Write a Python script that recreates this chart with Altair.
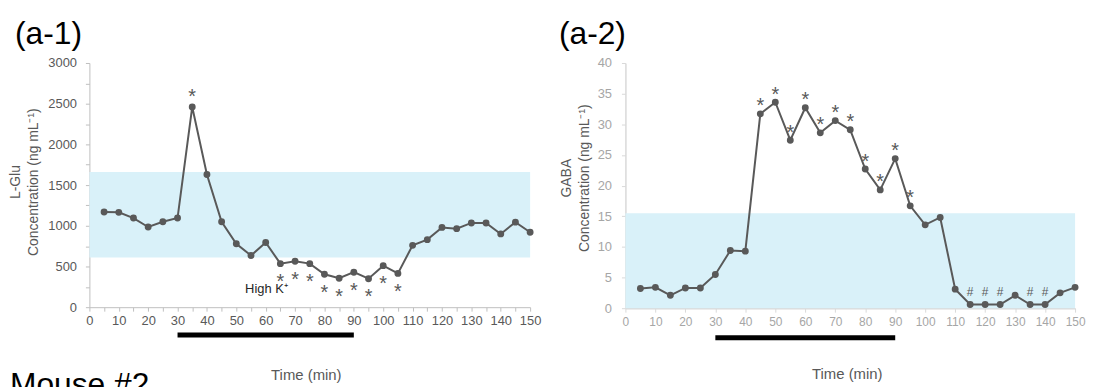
import altair as alt
import pandas as pd

# ---------------- data ----------------
time_min = list(range(5, 151, 5))
glu = [1170, 1165, 1095, 985, 1050, 1095, 2460, 1630, 1050, 780,
       635, 795, 535, 565, 535, 405, 355, 430, 350, 510,
       415, 760, 830, 980, 965, 1035, 1035, 900, 1045, 920]
gaba = [3.2, 3.4, 2.1, 3.3, 3.3, 5.5, 9.4, 9.3, 31.7, 33.6,
        27.4, 32.7, 28.6, 30.6, 29.1, 22.7, 19.3, 24.4, 16.7, 13.6,
        14.8, 3.1, 0.6, 0.6, 0.6, 2.1, 0.6, 0.6, 2.5, 3.4]

glu_star_above = [35]
glu_star_below = [65, 70, 75, 80, 85, 90, 95, 100, 105]
gaba_star_above = [45, 50, 55, 60, 65, 70, 75, 80, 85, 90, 95]
gaba_hash_above = [115, 120, 125, 135, 140]

glu_band = [610, 1660]
gaba_band = [0, 15.5]
stim = [30, 90]
stim_label = "High K\u207a"

FONT = "Liberation Sans, Arial, sans-serif"
GRAY = "#595959"
LIGHT = "#a6a6a6"
BLUE = "#d9f1f9"

df_glu = pd.DataFrame({"time": time_min, "value": glu})
df_gaba = pd.DataFrame({"time": time_min, "value": gaba})
df_stim = pd.DataFrame({"time": [stim[0]], "time2": [stim[1]]})


def sub(df, times):
    return df[df["time"].isin(times)]


def band_layer(band, xenc, yenc):
    d = pd.DataFrame({"time": [0], "time2": [150], "value": [band[0]], "value2": [band[1]]})
    return alt.Chart(d).mark_rect(color=BLUE).encode(
        x=xenc, x2="time2:Q", y=yenc, y2="value2:Q")


def series_layers(df, xenc, yenc):
    base = alt.Chart(df).encode(x=xenc, y=yenc)
    line = base.mark_line(color=GRAY, strokeWidth=2)
    pts = base.mark_point(filled=True, color=GRAY, opacity=1, size=48)
    return line + pts


def marks(df, times, sym, dy, size, xenc, yenc):
    return alt.Chart(sub(df, times)).mark_text(
        text=sym, dy=dy, fontSize=size, font=FONT, color=GRAY,
        baseline="alphabetic").encode(x=xenc, y=yenc)


def stim_layer(xenc, ypix):
    return alt.Chart(df_stim).mark_rule(color="black", strokeWidth=5, strokeCap="butt").encode(
        x=xenc, x2="time2:Q", y=alt.value(ypix))


def label_text(txt, x, y, size, color="black", align="left"):
    return alt.Chart(pd.DataFrame({"t": [txt]})).mark_text(
        font=FONT, fontSize=size, color=color, align=align,
        baseline="alphabetic").encode(text="t:N", x=alt.value(x), y=alt.value(y))


# ---------------- panel 1: L-Glu ----------------
x1 = alt.X("time:Q", scale=alt.Scale(domain=[0, 150], nice=False),
           axis=alt.Axis(values=list(range(0, 151, 5)),
                         labelExpr="datum.value % 10 == 0 ? datum.label : ''",
                         title="Time (min)", grid=False, labelOverlap=False,
                         labelFlush=False, tickSize=4, labelPadding=3,
                         domainColor="#bfbfbf", tickColor="#bfbfbf",
                         labelColor=GRAY, labelFont=FONT, labelFontSize=13,
                         titleFont=FONT, titleFontSize=15, titleFontWeight="normal",
                         titleColor=GRAY, titlePadding=41, titleX=218))
y1 = alt.Y("value:Q", scale=alt.Scale(domain=[0, 3000], nice=False),
           axis=alt.Axis(values=list(range(0, 3001, 250)), format="d",
                         labelExpr="datum.value % 500 == 0 ? datum.label : ''",
                         title=["L-Glu", "Concentration (ng mL\u207b\u00b9)"],
                         grid=False, labelOverlap=False, labelFlush=False,
                         tickSize=4, labelPadding=9,
                         domainColor="#bfbfbf", tickColor="#bfbfbf",
                         labelColor=GRAY, labelFont=FONT, labelFontSize=13,
                         titleFont=FONT, titleFontSize=14, titleFontWeight="normal",
                         titleColor=GRAY, titlePadding=7, titleLineHeight=18,
                         titleY=119.5))

df_label = pd.DataFrame({"time": [53], "value": [226], "t": [stim_label]})

p1 = alt.layer(
    band_layer(glu_band, x1, y1),
    series_layers(df_glu, x1, y1),
    marks(df_glu, glu_star_above, "*", -3.5, 20, x1, y1),
    marks(df_glu, glu_star_below, "*", 24.5, 20, x1, y1),
    alt.Chart(df_label).mark_text(
        font=FONT, fontSize=13, color="#262626", align="left",
        baseline="middle").encode(text="t:N", x=x1, y=y1),
    stim_layer(x1, 274),
    label_text("(a-1)", -75, -19.5, 32),
    label_text("Mouse #2", -80, 334.5, 32),
).properties(width=444, height=246)

# ---------------- panel 2: GABA ----------------
x2 = alt.X("time:Q", scale=alt.Scale(domain=[0, 150], nice=False),
           axis=alt.Axis(values=list(range(0, 151, 10)),
                         title="Time (min)", grid=False, labelOverlap=False,
                         labelFlush=False, tickSize=4, labelPadding=4,
                         domainColor="#d9d9d9", tickColor="#d9d9d9", domainWidth=1.5,
                         labelColor=LIGHT, labelFont=FONT, labelFontSize=12,
                         titleFont=FONT, titleFontSize=15, titleFontWeight="normal",
                         titleColor=GRAY, titlePadding=40, titleX=223))
y2 = alt.Y("value:Q", scale=alt.Scale(domain=[0, 40], nice=False),
           axis=alt.Axis(values=list(range(0, 41, 5)), format="d",
                         title=["GABA", "Concentration (ng mL\u207b\u00b9)"],
                         grid=False, labelOverlap=False, labelFlush=False,
                         tickSize=4, labelPadding=10,
                         domainColor="#d9d9d9", tickColor="#d9d9d9", domainWidth=1.5,
                         labelColor=LIGHT, labelFont=FONT, labelFontSize=13,
                         titleFont=FONT, titleFontSize=14, titleFontWeight="normal",
                         titleColor=GRAY, titlePadding=6, titleLineHeight=18,
                         titleY=115.5))

p2 = alt.layer(
    band_layer(gaba_band, x2, y2),
    series_layers(df_gaba, x2, y2),
    marks(df_gaba, gaba_star_above, "*", -1.5, 20, x2, y2),
    marks(df_gaba, gaba_hash_above, "#", -8.5, 12, x2, y2),
    stim_layer(x2, 276.7),
    label_text("(a-2)", -67, -19.5, 32),
).properties(width=453, height=247)

chart = alt.hconcat(p1, p2, spacing=96, bounds="flush").properties(
    autosize=alt.AutoSizeParams(type="none"),
    padding={"left": 82, "top": 54, "right": 1004, "bottom": 325}
).configure_view(strokeWidth=0).configure_axis(labelOverlap=False)

chart.save("out.html", embed_options={"renderer": "svg", "actions": False})
